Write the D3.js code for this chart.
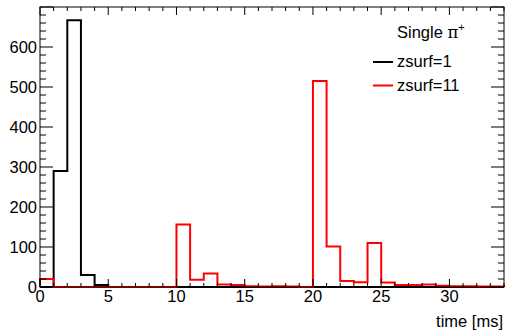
<!DOCTYPE html>
<html>
<head>
<meta charset="utf-8">
<script src="https://cdn.jsdelivr.net/npm/d3@7"></script>
<style>
  body { margin: 0; background: #fff; }
  svg { display: block; font-family: "Liberation Sans", Arial, sans-serif; }
</style>
</head>
<body>
<svg id="chart" width="509" height="333"></svg>
<script>
// bin edges in ms, 1 ms wide bins from 0 to 34
const binEdges = d3.range(0, 35);
// counts per bin
const zsurf1 = [0, 290, 667, 30, 5, 0, 0, 0, 0, 0, 0, 0, 0, 0, 0, 0, 0,
  0, 0, 0, 0, 0, 0, 0, 0, 0, 0, 0, 0, 0, 0, 0, 0, 0];
const zsurf11 = [20, 0, 0, 0, 0, 0, 0, 0, 0, 0, 156, 18, 34, 6, 5, 2, 1,
  2, 1, 0, 515, 101, 15, 12, 110, 11, 5, 5, 6, 3, 2, 2, 1, 1];
const xTicks = [0, 5, 10, 15, 20, 25, 30];
const yTicks = [0, 100, 200, 300, 400, 500, 600];
const series = [
  { name: "zsurf=1", values: zsurf1, color: "#000" },
  { name: "zsurf=11", values: zsurf11, color: "#ff0000" }
];

const W = 509, H = 333;
const margin = { top: 7, right: 5, bottom: 46, left: 40 };

const svg = d3.select("#chart");

const x = d3.scaleLinear().domain([0, 34]).range([margin.left, W - margin.right]);
const y = d3.scaleLinear().domain([0, 700]).range([H - margin.bottom, margin.top]);

// histogram as step line (ROOT style)
function stepPath(vals) {
  let pts = [[x(binEdges[0]), y(0)]];
  vals.forEach(function (v, i) {
    pts.push([x(binEdges[i]), y(v)]);
    pts.push([x(binEdges[i + 1]), y(v)]);
  });
  pts.push([x(binEdges[vals.length]), y(0)]);
  return d3.line()(pts);
}

series.forEach(function (s) {
  svg.append("path")
    .attr("d", stepPath(s.values))
    .attr("fill", "none")
    .attr("stroke", s.color)
    .attr("stroke-width", 2);
});

// axes with inward ticks, minor ticks by hand
const x0 = margin.left, x1 = W - margin.right;
const y0 = H - margin.bottom, y1 = margin.top;

const gx = svg.append("g").attr("class", "x-ticks");
d3.range(0, 35).forEach(function (v) {
  const major = v % 5 === 0;
  const len = major ? 8 : 4;
  gx.append("line").attr("x1", x(v)).attr("x2", x(v))
    .attr("y1", y0).attr("y2", y0 - len).attr("stroke", "#000");
  gx.append("line").attr("x1", x(v)).attr("x2", x(v))
    .attr("y1", y1).attr("y2", y1 + len).attr("stroke", "#000");
});
xTicks.forEach(function (v) {
  gx.append("text")
    .attr("x", x(v)).attr("y", y0 + 15)
    .attr("text-anchor", "middle")
    .style("font-size", "16.5px")
    .text(v);
});

const gy = svg.append("g").attr("class", "y-ticks");
d3.range(0, 701, 20).forEach(function (v) {
  const major = v % 100 === 0;
  const len = major ? 13 : 6;
  gy.append("line").attr("x1", x0).attr("x2", x0 + len)
    .attr("y1", y(v)).attr("y2", y(v)).attr("stroke", "#000");
  gy.append("line").attr("x1", x1).attr("x2", x1 - len)
    .attr("y1", y(v)).attr("y2", y(v)).attr("stroke", "#000");
});
yTicks.forEach(function (v) {
  gy.append("text")
    .attr("x", x0 - 3).attr("y", y(v) + 6)
    .attr("text-anchor", "end")
    .style("font-size", "16.5px")
    .text(v);
});

// frame
svg.append("rect")
  .attr("x", x0).attr("y", y1)
  .attr("width", x1 - x0).attr("height", y0 - y1)
  .attr("fill", "none").attr("stroke", "#000");

// axis title
svg.append("text")
  .attr("x", x1 - 1).attr("y", 327)
  .attr("text-anchor", "end")
  .style("font-size", "16.5px")
  .text("time [ms]");

// legend
const legend = svg.append("g").attr("transform", "translate(373, 0)");
const title = legend.append("text")
  .attr("x", 24).attr("y", 38)
  .style("font-size", "16.5px");
title.append("tspan").text("Single ");
title.append("tspan").style("font-family", "DejaVu Serif, serif").text("π");
title.append("tspan").attr("dy", -7).style("font-size", "11px").text("+");

series.forEach(function (s, i) {
  const ly = 62 + i * 23.5;
  legend.append("line")
    .attr("x1", 0).attr("x2", 20)
    .attr("y1", ly).attr("y2", ly)
    .attr("stroke", s.color).attr("stroke-width", 2);
  legend.append("text")
    .attr("x", 24).attr("y", ly + 5)
    .style("font-size", "16.5px")
    .text(s.name);
});
</script>
</body>
</html>
